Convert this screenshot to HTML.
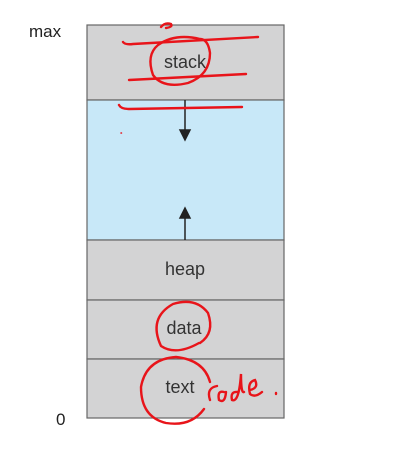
<!DOCTYPE html>
<html><head><meta charset="utf-8"><style>
body{margin:0;background:#fff;width:412px;height:470px;overflow:hidden;font-family:"Liberation Sans",sans-serif}
</style></head><body>
<svg width="412" height="470" viewBox="0 0 412 470">
<text x="29" y="37" font-size="17" fill="#222">max</text>
<text x="56" y="425" font-size="17" fill="#222">0</text>
<rect x="87" y="25" width="197" height="75" fill="#d3d3d4" stroke="#666" stroke-width="1.2"/>
<rect x="87" y="100" width="197" height="140" fill="#c8e8f8" stroke="#666" stroke-width="1.2"/>
<rect x="87" y="240" width="197" height="60" fill="#d3d3d4" stroke="#666" stroke-width="1.2"/>
<rect x="87" y="300" width="197" height="59" fill="#d3d3d4" stroke="#666" stroke-width="1.2"/>
<rect x="87" y="359" width="197" height="59" fill="#d3d3d4" stroke="#666" stroke-width="1.2"/>
<g font-size="18" fill="#333" text-anchor="middle">
<text x="185" y="68">stack</text>
<text x="185" y="275">heap</text>
<text x="184" y="334">data</text>
<text x="180" y="393">text</text>
</g>
<g stroke="#222" stroke-width="1.5" fill="#222">
<line x1="185" y1="100" x2="185" y2="132"/><polygon points="180,130 190,130 185,140"/>
</g>
<g stroke="#222" stroke-width="1.5" fill="#222">
<line x1="185" y1="240" x2="185" y2="216"/><polygon points="180,218 190,218 185,208"/>
</g>
<g stroke="#e8141a" stroke-width="2.4" fill="none" stroke-linecap="round">
<path d="M161,27 q4,-5 10,-3 q2,3 -5,4"/>
<path d="M123,42 q2,3 10,2 L258,37"/>
<path d="M129,80 L246,74"/>
<path d="M119,105 q2,4 10,4 L242,107"/>
<path d="M158,45 q-12,10 -5,30 q10,14 35,8 q22,-8 22,-30 q-2,-14 -10,-14 q-25,-6 -42,6z"/>
<path d="M200,343 q15,-10 8,-30 q-12,-16 -35,-9 q-25,14 -12,42 q15,10 38,-3"/>
<path d="M210,382 q-6,-22 -34,-25 q-30,2 -35,30 q0,30 25,36 q25,4 38,-14"/>
<path d="M210,400 q-4,-12 7,-14 M224,392 q-7,-2 -5,8 q6,4 7,-8 M238,392 q-8,-1 -6,8 q7,3 9,-26 q0,20 3,18 M250,390 q9,-2 5,-10 q-8,2 -5,14 q5,4 12,-2 M276,393 l0,1"/>
<path d="M121,133 l0.5,0" stroke-width="1.5"/>
</g>
</svg>
</body></html>
